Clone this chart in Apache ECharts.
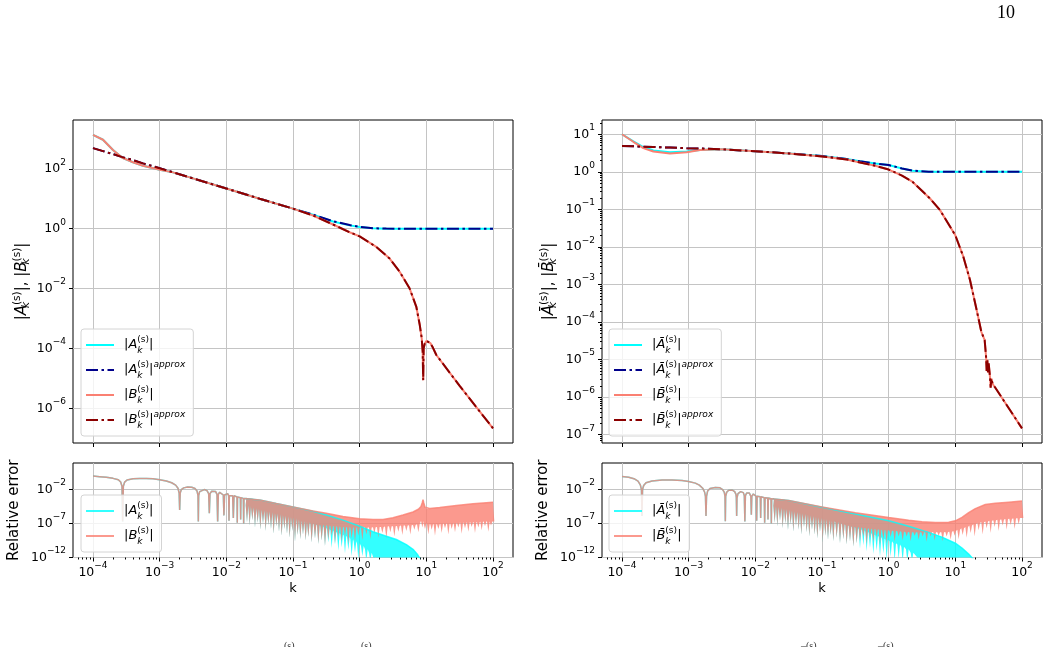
<!DOCTYPE html>
<html><head><meta charset="utf-8">
<script src="https://cdn.jsdelivr.net/npm/echarts@6/dist/echarts.min.js"></script>
<style>html,body{margin:0;padding:0;background:#fff}#c{width:1049px;height:647px}</style>
</head><body><div id="c"></div>
<script>
// All positions are log10 values: x = log10(k), y = log10(|quantity|)
const xTickExp = [-4, -3, -2, -1, 0, 1, 2];
const yTickExpTL = [-6, -4, -2, 0, 2];
const yTickExpTR = [-7, -6, -5, -4, -3, -2, -1, 0, 1];
const yTickExpErr = [-12, -7, -2];

// ---- top-left panel: |A|, |B| ----
const tlKA = [-4, -3.85, -3.7, -3.56, -3.4, -3.25, -3.0, -2.8, -2.5, -2.0, -1.5, -1.0, -0.7, -0.4, -0.15, 0, 0.2, 0.4, 0.7, 1.0, 1.5, 2.0];
const tlA = [3.13, 2.97, 2.63, 2.37, 2.22, 2.1, 1.97, 1.88, 1.68, 1.34, 1.0, 0.67, 0.47, 0.24, 0.11, 0.055, 0.01, 0.0, 0, 0, 0, 0];
const tlAapprox = [2.69, 2.59, 2.49, 2.39, 2.29, 2.18, 2.02, 1.88, 1.68, 1.34, 1.0, 0.67, 0.47, 0.25, 0.12, 0.06, 0.015, 0.002, 0, 0, 0, 0];
const tlKB = [-4, -3.85, -3.7, -3.56, -3.4, -3.25, -3.0, -2.8, -2.5, -2.0, -1.5, -1.0, -0.7, -0.4, -0.15, 0, 0.25, 0.45, 0.6, 0.75, 0.85, 0.9, 0.93, 0.945, 0.953, 0.96, 0.975, 1.0, 1.025, 1.06, 1.1, 1.15, 1.5, 2.0];
const tlB = [3.13, 2.97, 2.63, 2.37, 2.22, 2.1, 1.97, 1.88, 1.68, 1.34, 1.0, 0.67, 0.44, 0.14, -0.12, -0.26, -0.61, -1.0, -1.44, -2.0, -2.61, -3.2, -3.65, -4.1, -5.06, -4.0, -3.85, -3.75, -3.72, -3.82, -3.98, -4.22, -5.25, -6.67];
const tlBapprox = [2.69, 2.59, 2.49, 2.39, 2.29, 2.18, 2.02, 1.88, 1.68, 1.34, 1.0, 0.67, 0.44, 0.14, -0.12, -0.26, -0.61, -1.0, -1.44, -2.0, -2.61, -3.2, -3.65, -4.1, -5.06, -4.0, -3.85, -3.75, -3.72, -3.82, -3.98, -4.22, -5.25, -6.67];

// ---- top-right panel: |Ā|, |B̄| ----
const trKA = [-4, -3.83, -3.68, -3.53, -3.28, -3.03, -2.83, -2.5, -2.0, -1.5, -1.0, -0.63, -0.43, -0.2, 0, 0.2, 0.36, 0.6, 1.0, 1.5, 2.0];
const trA = [1.0, 0.81, 0.66, 0.57, 0.52, 0.54, 0.58, 0.6, 0.55, 0.49, 0.42, 0.34, 0.28, 0.22, 0.18, 0.09, 0.03, 0.005, 0, 0, 0];
const trAapprox = [0.69, 0.68, 0.67, 0.66, 0.645, 0.63, 0.62, 0.6, 0.55, 0.49, 0.42, 0.34, 0.28, 0.22, 0.18, 0.09, 0.03, 0.005, 0, 0, 0];
const trKB = [-4, -3.83, -3.68, -3.53, -3.28, -3.03, -2.83, -2.5, -2.0, -1.5, -1.0, -0.63, -0.43, -0.2, 0, 0.2, 0.36, 0.62, 0.77, 1.0, 1.12, 1.22, 1.32, 1.39, 1.44, 1.46, 1.47, 1.48, 1.49, 1.5, 1.52, 1.53, 1.54, 1.56, 1.6, 2.0];
const trB = [1.0, 0.80, 0.63, 0.54, 0.49, 0.52, 0.58, 0.6, 0.55, 0.49, 0.41, 0.33, 0.25, 0.16, 0.06, -0.1, -0.27, -0.71, -1.02, -1.69, -2.26, -2.88, -3.68, -4.26, -4.48, -4.9, -5.3, -5.0, -5.35, -5.1, -5.46, -5.75, -5.5, -5.65, -5.75, -6.83];
const trBapprox = [0.69, 0.68, 0.67, 0.66, 0.645, 0.63, 0.62, 0.6, 0.55, 0.49, 0.41, 0.33, 0.25, 0.16, 0.06, -0.1, -0.27, -0.71, -1.02, -1.69, -2.26, -2.88, -3.68, -4.26, -4.48, -4.9, -5.3, -5.0, -5.35, -5.1, -5.46, -5.75, -5.5, -5.65, -5.75, -6.83];

// ---- bottom-left panel: relative error (low-k arcs shared by A and B) ----
const blArcK = [-4.0, -3.9, -3.8, -3.7, -3.62, -3.585, -3.565, -3.555, -3.545, -3.525, -3.49, -3.4, -3.3, -3.2, -3.1, -3.0, -2.9, -2.82, -2.76, -2.725, -2.708, -2.70, -2.692, -2.675, -2.64, -2.58, -2.52, -2.47, -2.44, -2.425, -2.42, -2.415, -2.40, -2.37, -2.33, -2.29, -2.265, -2.255, -2.245, -2.22, -2.19, -2.16, -2.14, -2.13, -2.12, -2.10, -2.07, -2.045, -2.036, -2.027, -2.0, -1.98, -1.965, -1.96, -1.955, -1.93, -1.905, -1.895, -1.885, -1.86, -1.84, -1.836, -1.832, -1.81, -1.79, -1.785, -1.78, -1.76, -1.745, -1.74, -1.735, -1.72];
const blArcV = [-0.02, -0.1, -0.2, -0.35, -0.55, -0.9, -1.5, -6.7, -1.5, -0.9, -0.6, -0.42, -0.36, -0.36, -0.42, -0.55, -0.75, -1.0, -1.35, -1.8, -2.5, -5.0, -2.5, -2.0, -1.75, -1.62, -1.65, -1.85, -2.2, -2.9, -6.7, -2.9, -2.3, -2.05, -2.0, -2.15, -2.6, -5.5, -2.6, -2.25, -2.2, -2.3, -2.7, -6.7, -2.7, -2.4, -2.4, -2.8, -5.8, -2.8, -2.55, -2.6, -2.9, -6.6, -2.9, -2.7, -2.9, -6.2, -2.9, -2.85, -3.1, -6.9, -3.1, -2.95, -3.2, -6.4, -3.2, -3.05, -3.3, -7.0, -3.3, -3.15];
// upper envelopes of the dense oscillating part
const blAupK = [-1.72, -1.5, -1.25, -1.0, -0.7, -0.5, -0.25, 0, 0.2, 0.4, 0.55, 0.7, 0.8, 0.87, 0.93];
const blAupV = [-3.15, -3.52, -4.05, -4.55, -5.2, -5.75, -6.5, -7.4, -8.2, -8.86, -9.35, -10.1, -10.8, -11.6, -12.6];
const blBupK = [-1.72, -1.5, -1.25, -1.0, -0.7, -0.5, -0.25, 0, 0.2, 0.35, 0.5, 0.65, 0.8, 0.88, 0.92, 0.94, 0.95, 0.96, 0.98, 1.0, 1.05, 1.2, 1.45, 1.7, 2.0];
const blBupV = [-3.15, -3.52, -4.05, -4.55, -5.15, -5.5, -5.95, -6.3, -6.42, -6.4, -6.15, -5.75, -5.3, -4.9, -4.5, -3.9, -3.47, -3.9, -4.6, -4.84, -4.8, -4.65, -4.35, -4.1, -3.86];
// downward spikes: position, spike bottom, solid-fill bottom next to it
const blAspK = [-1.72, -1.69, -1.65, -1.61, -1.57, -1.53, -1.49, -1.45, -1.41, -1.37, -1.33, -1.29, -1.25, -1.21, -1.17, -1.13, -1.09, -1.05, -1.01, -0.97, -0.93, -0.89, -0.85, -0.81, -0.77, -0.72, -0.67, -0.62, -0.57, -0.52, -0.47, -0.42, -0.37, -0.32, -0.27, -0.22, -0.17, -0.12, -0.07, -0.02, 0.04, 0.10, 0.16, 0.22, 0.30, 0.93];
const blAspLo = [-3.15, -6.8, -7.3, -6.5, -7.6, -6.9, -7.9, -7.0, -8.1, -7.2, -7.8, -8.5, -7.4, -8.2, -8.8, -7.8, -8.5, -9.1, -8.1, -9.7, -8.7, -9.3, -8.6, -9.5, -9.0, -9.8, -9.2, -10.0, -9.5, -10.3, -9.8, -10.6, -10.1, -11.0, -10.5, -11.4, -10.9, -11.8, -11.3, -12.3, -11.8, -12.6, -12.6, -12.6, -12.6, -12.6];
const blAspBase = [-3.15, -4.3, -4.4, -4.6, -4.7, -4.8, -4.9, -5.0, -5.1, -5.2, -5.3, -5.4, -5.5, -5.6, -5.7, -5.8, -5.9, -6.0, -6.1, -6.2, -6.35, -6.5, -6.6, -6.7, -6.85, -7.0, -7.15, -7.3, -7.45, -7.6, -7.8, -8.0, -8.2, -8.4, -8.6, -8.8, -9.0, -9.3, -9.6, -9.9, -10.3, -10.8, -11.3, -11.9, -12.6, -12.6];
const blBspK = [-1.72, -1.69, -1.65, -1.61, -1.57, -1.53, -1.49, -1.45, -1.41, -1.37, -1.33, -1.29, -1.25, -1.21, -1.17, -1.13, -1.09, -1.05, -1.01, -0.97, -0.93, -0.89, -0.85, -0.81, -0.77, -0.72, -0.67, -0.62, -0.57, -0.52, -0.47, -0.42, -0.37, -0.32, -0.27, -0.22, -0.17, -0.12, -0.07, -0.02, 0.04, 0.10, 0.16, 0.22, 0.28, 0.34, 0.40, 0.46, 0.52, 0.58, 0.64, 0.70, 0.76, 0.82, 0.88, 0.94, 0.98, 1.03, 1.08, 1.13, 1.18, 1.23, 1.28, 1.33, 1.38, 1.43, 1.48, 1.53, 1.58, 1.63, 1.68, 1.73, 1.78, 1.83, 1.88, 1.93, 1.97, 2.0];
const blBspLo = [-3.15, -6.8, -7.3, -6.5, -7.6, -6.9, -7.9, -7.0, -8.1, -7.2, -7.8, -8.5, -7.4, -8.2, -8.8, -7.8, -8.5, -9.1, -8.1, -9.7, -8.7, -9.3, -8.6, -9.5, -9.0, -9.8, -9.2, -10.0, -9.5, -10.3, -9.4, -8.8, -9.9, -9.0, -9.6, -8.9, -10.0, -9.2, -9.7, -8.8, -9.5, -8.6, -9.3, -8.5, -9.1, -8.4, -9.2, -8.3, -8.9, -8.2, -8.7, -8.1, -8.6, -7.9, -8.3, -7.6, -7.8, -8.6, -7.9, -8.8, -7.8, -8.4, -7.7, -8.6, -7.8, -8.3, -7.6, -8.5, -7.7, -8.2, -7.5, -8.4, -7.6, -8.0, -7.4, -8.2, -7.3, -6.7];
const blBspBase = [-3.15, -4.3, -4.4, -4.6, -4.7, -4.8, -4.9, -5.0, -5.1, -5.2, -5.3, -5.4, -5.5, -5.6, -5.7, -5.8, -5.9, -6.0, -6.1, -6.2, -6.35, -6.5, -6.6, -6.7, -6.85, -7.0, -7.15, -7.2, -7.25, -7.3, -7.3, -7.35, -7.4, -7.45, -7.5, -7.5, -7.55, -7.6, -7.6, -7.6, -7.6, -7.6, -7.6, -7.55, -7.5, -7.5, -7.45, -7.4, -7.4, -7.35, -7.3, -7.3, -7.25, -7.2, -7.1, -6.6, -7.0, -7.1, -7.1, -7.1, -7.1, -7.05, -7.0, -7.0, -7.0, -6.95, -6.9, -6.9, -6.9, -6.85, -6.8, -6.8, -6.8, -6.75, -6.7, -6.7, -6.7, -6.7];

// ---- bottom-right panel: relative error ----
const brArcK = [-4.0, -3.9, -3.82, -3.76, -3.725, -3.708, -3.70, -3.692, -3.675, -3.64, -3.55, -3.4, -3.25, -3.1, -3.0, -2.9, -2.84, -2.79, -2.76, -2.748, -2.74, -2.732, -2.715, -2.68, -2.6, -2.53, -2.49, -2.465, -2.455, -2.45, -2.445, -2.43, -2.4, -2.35, -2.31, -2.29, -2.285, -2.28, -2.275, -2.26, -2.22, -2.18, -2.165, -2.157, -2.149, -2.13, -2.09, -2.067, -2.06, -2.053, -2.03, -2.0, -1.987, -1.98, -1.973, -1.95, -1.926, -1.92, -1.914, -1.89, -1.866, -1.86, -1.854, -1.83, -1.815, -1.81, -1.805, -1.78, -1.765, -1.76, -1.755, -1.74];
const brArcV = [-0.09, -0.2, -0.4, -0.75, -1.3, -2.0, -5.9, -2.0, -1.4, -1.0, -0.75, -0.6, -0.58, -0.65, -0.8, -1.05, -1.35, -1.8, -2.4, -3.0, -5.9, -3.0, -2.2, -1.85, -1.7, -1.75, -2.0, -2.4, -3.0, -6.65, -3.0, -2.4, -2.1, -2.05, -2.3, -2.7, -3.2, -5.9, -3.2, -2.6, -2.3, -2.45, -2.9, -6.7, -2.9, -2.5, -2.5, -3.0, -5.7, -3.0, -2.65, -2.7, -3.0, -6.6, -3.0, -2.8, -3.05, -6.2, -3.05, -2.95, -3.2, -6.9, -3.2, -3.05, -3.25, -6.4, -3.25, -3.15, -3.35, -7.0, -3.35, -3.25];
const brAupK = [-1.74, -1.5, -1.0, -0.5, 0, 0.3, 0.6, 0.8, 1.0, 1.1, 1.2, 1.3];
const brAupV = [-3.25, -3.6, -4.6, -5.6, -6.6, -7.4, -8.3, -9.0, -9.9, -10.6, -11.5, -12.6];
const brBupK = [-1.74, -1.5, -1.0, -0.5, 0, 0.3, 0.5, 0.7, 0.9, 1.0, 1.1, 1.2, 1.3, 1.45, 1.6, 1.8, 2.0];
const brBupV = [-3.25, -3.6, -4.55, -5.4, -6.1, -6.5, -6.75, -6.85, -6.8, -6.6, -6.1, -5.4, -4.8, -4.2, -4.0, -3.85, -3.7];
const brAspK = [-1.74, -1.71, -1.67, -1.63, -1.59, -1.55, -1.51, -1.47, -1.43, -1.39, -1.35, -1.31, -1.27, -1.23, -1.19, -1.15, -1.11, -1.07, -1.03, -0.99, -0.95, -0.91, -0.87, -0.83, -0.78, -0.73, -0.68, -0.63, -0.58, -0.53, -0.48, -0.43, -0.38, -0.33, -0.28, -0.23, -0.18, -0.13, -0.08, -0.03, 0.03, 0.09, 0.15, 0.21, 0.28, 0.35, 0.45, 0.55, 1.3];
const brAspLo = [-3.25, -6.9, -7.4, -6.6, -7.7, -7.0, -8.0, -7.1, -8.2, -7.3, -7.9, -8.6, -7.5, -8.3, -8.9, -7.9, -8.6, -9.2, -8.2, -9.8, -8.8, -9.4, -8.7, -9.6, -9.1, -9.9, -9.3, -10.1, -9.6, -10.4, -9.9, -10.7, -10.2, -11.1, -10.6, -11.5, -11.0, -11.9, -11.4, -12.4, -11.9, -12.6, -12.2, -12.6, -12.6, -12.6, -12.6, -12.6, -12.6];
const brAspBase = [-3.25, -4.4, -4.5, -4.65, -4.75, -4.85, -4.95, -5.05, -5.15, -5.25, -5.35, -5.45, -5.55, -5.65, -5.75, -5.85, -5.95, -6.05, -6.15, -6.25, -6.35, -6.45, -6.55, -6.65, -6.8, -6.95, -7.1, -7.25, -7.4, -7.55, -7.7, -7.85, -8.0, -8.2, -8.4, -8.6, -8.8, -9.0, -9.2, -9.4, -9.6, -9.9, -10.1, -10.4, -10.8, -11.3, -12.0, -12.6, -12.6];
const brBspK = [-1.74, -1.71, -1.67, -1.63, -1.59, -1.55, -1.51, -1.47, -1.43, -1.39, -1.35, -1.31, -1.27, -1.23, -1.19, -1.15, -1.11, -1.07, -1.03, -0.99, -0.95, -0.91, -0.87, -0.83, -0.78, -0.73, -0.68, -0.63, -0.58, -0.53, -0.48, -0.43, -0.38, -0.33, -0.28, -0.23, -0.18, -0.13, -0.08, -0.03, 0.03, 0.09, 0.15, 0.21, 0.27, 0.33, 0.39, 0.45, 0.51, 0.57, 0.63, 0.69, 0.75, 0.81, 0.87, 0.93, 0.99, 1.05, 1.11, 1.17, 1.23, 1.29, 1.35, 1.41, 1.47, 1.53, 1.59, 1.65, 1.71, 1.77, 1.83, 1.89, 1.95, 2.0];
const brBspLo = [-3.25, -6.9, -7.4, -6.6, -7.7, -7.0, -8.0, -7.1, -8.2, -7.3, -7.9, -8.6, -7.5, -8.3, -8.9, -7.9, -8.6, -9.2, -8.2, -9.8, -8.8, -9.4, -8.7, -9.6, -9.1, -9.9, -9.3, -10.1, -9.6, -10.4, -9.9, -9.6, -8.9, -10.0, -9.1, -9.7, -9.0, -10.1, -9.3, -9.9, -9.0, -9.7, -8.9, -9.5, -8.9, -9.6, -8.8, -9.4, -8.9, -9.7, -8.9, -9.5, -8.8, -9.6, -8.9, -9.4, -8.8, -9.3, -8.7, -9.1, -8.4, -8.9, -8.0, -8.6, -7.7, -8.4, -7.5, -8.1, -7.3, -7.9, -7.2, -7.8, -7.1, -6.2];
const brBspBase = [-3.25, -4.4, -4.5, -4.65, -4.75, -4.85, -4.95, -5.05, -5.15, -5.25, -5.35, -5.45, -5.55, -5.65, -5.75, -5.85, -5.95, -6.05, -6.15, -6.25, -6.35, -6.45, -6.55, -6.65, -6.8, -6.95, -7.1, -7.25, -7.4, -7.5, -7.55, -7.6, -7.65, -7.7, -7.75, -7.8, -7.85, -7.9, -7.95, -8.0, -8.05, -8.1, -8.15, -8.2, -8.25, -8.3, -8.3, -8.3, -8.3, -8.3, -8.3, -8.3, -8.3, -8.3, -8.25, -8.2, -8.1, -7.9, -7.7, -7.5, -7.3, -7.1, -6.9, -6.8, -6.7, -6.6, -6.5, -6.45, -6.4, -6.35, -6.3, -6.25, -6.2, -6.2];

// ---------------------------------------------------------------
const FONT = 'DejaVu Sans';
const C_CYAN = '#00ffff', C_NAVY = '#00008b', C_SALMON = '#fa8072', C_DRED = '#8b0000';
const DASHDOT = [12, 3.5, 2.5, 3.5];
const SPIKE_HALF_W = 0.02;
const pairs = (k, v) => k.map((x, i) => [x, v[i]]);
const minorVals = (lo, hi) => { const r = []; for (let n = -9; n <= 3; n++) for (let m = 2; m <= 9; m++) { const v = n + Math.log10(m); if (v > lo && v < hi) r.push(v); } return r; };

const powRich = {
  b: {fontFamily: FONT, fontSize: 12.5, color: '#000', lineHeight: 22},
  s: {fontFamily: FONT, fontSize: 9, color: '#000', verticalAlign: 'top', lineHeight: 10}
};
const fmtPow = v => { const e = Math.round(v); return '{b|10}{s|' + (e < 0 ? '\u2212' + (-e) : e) + '}'; };

const mathRich = (fs) => ({
  p: {fontFamily: FONT, fontSize: fs, color: '#000', lineHeight: 20},
  p0: {fontFamily: FONT, fontSize: fs, color: '#000', lineHeight: 20, padding: [0, 0, 0, 5]},
  v: {fontFamily: FONT, fontSize: fs, fontStyle: 'italic', color: '#000', lineHeight: 20},
  sb: {fontFamily: FONT, fontSize: fs * 0.7, fontStyle: 'italic', color: '#000', verticalAlign: 'bottom', width: 0, lineHeight: 10},
  sp: {fontFamily: FONT, fontSize: fs * 0.7, color: '#000', verticalAlign: 'top', lineHeight: 10},
  sa: {fontFamily: FONT, fontSize: fs * 0.7, fontStyle: 'italic', color: '#000', verticalAlign: 'top', lineHeight: 10}
});
const sym = (L, first) => '{' + (first ? 'p0' : 'p') + '||}{v|' + L + '}{sb|k}{sp|(s)}{p||}';
const ABAR = '\u0100', BBAR = 'B\u0304';
const legendText = {
  tlA: sym('A', 1), tlAap: sym('A', 1) + '{sa|approx}', tlB: sym('B', 1), tlBap: sym('B', 1) + '{sa|approx}',
  trA: sym(ABAR, 1), trAap: sym(ABAR, 1) + '{sa|approx}', trB: sym(BBAR, 1), trBap: sym(BBAR, 1) + '{sa|approx}',
  blA: sym('A', 1), blB: sym('B', 1), brA: sym(ABAR, 1), brB: sym(BBAR, 1)
};

const grids = [
  {left: 73, top: 120, width: 440, height: 323},
  {left: 73, top: 463, width: 440, height: 94.5},
  {left: 602, top: 120, width: 440, height: 323},
  {left: 602, top: 463, width: 440, height: 94.5}
].map(g => Object.assign(g, {show: true, borderColor: '#000', borderWidth: 1, backgroundColor: 'transparent'}));

const gridLine = {show: true, lineStyle: {color: '#c4c4c4', width: 1}};
function mainX(gi, bottom) {
  return {
    type: 'value', gridIndex: gi, min: -4.3, max: 2.3, position: 'bottom',
    axisLine: {show: false, onZero: false},
    axisTick: {show: true, customValues: xTickExp, length: 4, lineStyle: {color: '#000'}},
    axisLabel: {show: bottom, customValues: xTickExp, formatter: fmtPow, rich: powRich, margin: 4},
    splitLine: gridLine,
    name: bottom ? 'k' : '', nameLocation: 'middle', nameGap: 25,
    nameTextStyle: {fontFamily: FONT, fontSize: 13, color: '#000'}
  };
}
function minorX(gi) {
  return {
    type: 'value', gridIndex: gi, min: -4.3, max: 2.3, position: 'bottom',
    axisLine: {show: false, onZero: false}, axisLabel: {show: false}, splitLine: {show: false},
    axisTick: {show: true, customValues: minorVals(-4.3, 2.3), length: 2, lineStyle: {color: '#000'}}
  };
}
function mainY(gi, min, max, ticks, name, nameGap, nameSize) {
  return {
    type: 'value', gridIndex: gi, min: min, max: max, position: 'left',
    axisLine: {show: false, onZero: false},
    axisTick: {show: true, customValues: ticks, length: 4, lineStyle: {color: '#000'}},
    axisLabel: {customValues: ticks, formatter: fmtPow, rich: powRich, margin: 7},
    splitLine: gridLine,
    name: name, nameLocation: 'middle', nameRotate: 90, nameGap: nameGap,
    nameTextStyle: {fontFamily: FONT, fontSize: nameSize, color: '#000', rich: mathRich(15)}
  };
}
function minorY(gi, min, max) {
  return {
    type: 'value', gridIndex: gi, min: min, max: max, position: 'left',
    axisLine: {show: false, onZero: false}, axisLabel: {show: false}, splitLine: {show: false},
    axisTick: {show: true, customValues: minorVals(min, max), length: 2, lineStyle: {color: '#000'}}
  };
}

const yNameTL = sym('A') + '{p|, }' + sym('B');
const yNameTR = sym(ABAR) + '{p|, }' + sym(BBAR);

function lineS(name, gi, k, v, color, dash, width, opacity) {
  return {
    name: name, type: 'line', xAxisIndex: gi, yAxisIndex: gi, data: pairs(k, v),
    symbol: 'none', showSymbol: false, smooth: false, silent: true,
    lineStyle: {color: color, width: width, type: dash || 'solid', opacity: opacity == null ? 1 : opacity},
    itemStyle: {color: color}
  };
}
// filled band: upper envelope, and a lower edge made of thin downward spikes
function bandS(gi, upK, upV, spK, spLo, spBase, fill) {
  return {
    type: 'custom', xAxisIndex: gi, yAxisIndex: gi, clip: true, silent: true,
    data: pairs(upK, upV),
    renderItem: (params, api) => {
      if (params.dataIndex !== 0) return null;
      const pts = [];
      for (let i = 0; i < upK.length; i++) pts.push(api.coord([upK[i], upV[i]]));
      for (let i = spK.length - 1; i >= 0; i--) {
        pts.push(api.coord([spK[i] + SPIKE_HALF_W, spBase[i]]));
        pts.push(api.coord([spK[i], spLo[i]]));
        pts.push(api.coord([spK[i] - SPIKE_HALF_W, spBase[i]]));
      }
      return {type: 'polygon', shape: {points: pts}, style: {fill: fill, stroke: null}};
    }
  };
}
const errLine = (arcK, arcV, upK, upV) => [arcK.concat(upK.slice(1)), arcV.concat(upV.slice(1))];

const blAl = errLine(blArcK, blArcV, blAupK, blAupV), blBl = errLine(blArcK, blArcV, blBupK, blBupV);
const brAl = errLine(brArcK, brArcV, brAupK, brAupV), brBl = errLine(brArcK, brArcV, brBupK, brBupV);
const CYAN_A = 'rgba(0,255,255,0.8)', SAL_A = 'rgba(250,128,114,0.8)';

function legendBox(left, top, names) {
  return {
    orient: 'vertical', left: left, top: top, data: names, itemWidth: 28, itemHeight: 12, itemGap: 5,
    padding: [6, 8, 6, 4], backgroundColor: 'rgba(255,255,255,0.8)', borderColor: '#d4d4d4', borderWidth: 1, borderRadius: 3,
    selectedMode: false, itemStyle: {opacity: 0},
    formatter: n => legendText[n], textStyle: {fontFamily: FONT, fontSize: 13, color: '#000', rich: mathRich(13)}
  };
}

const option = {
  animation: false,
  backgroundColor: '#fff',
  grid: grids,
  xAxis: [mainX(0, false), mainX(1, true), mainX(2, false), mainX(3, true), minorX(1), minorX(3)],
  yAxis: [
    mainY(0, -7.16, 3.63, yTickExpTL, yNameTL, 41, 15),
    mainY(1, -12, 1.91, yTickExpErr, 'Relative error', 51, 15),
    mainY(2, -7.22, 1.38, yTickExpTR, yNameTR, 43, 15),
    mainY(3, -12, 1.91, yTickExpErr, 'Relative error', 51, 15),
    minorY(2, -7.22, 1.38)
  ],
  legend: [
    legendBox(81, 329, ['tlA', 'tlAap', 'tlB', 'tlBap']),
    legendBox(81, 495, ['blA', 'blB']),
    legendBox(609, 329, ['trA', 'trAap', 'trB', 'trBap']),
    legendBox(609, 495, ['brA', 'brB'])
  ],
  series: [
    lineS('tlA', 0, tlKA, tlA, C_CYAN, null, 2),
    lineS('tlAap', 0, tlKA, tlAapprox, C_NAVY, DASHDOT, 2),
    lineS('tlB', 0, tlKB, tlB, C_SALMON, null, 2),
    lineS('tlBap', 0, tlKB, tlBapprox, C_DRED, DASHDOT, 2),

    lineS('trA', 2, trKA, trA, C_CYAN, null, 2),
    lineS('trAap', 2, trKA, trAapprox, C_NAVY, DASHDOT, 2),
    lineS('trB', 2, trKB, trB, C_SALMON, null, 2),
    lineS('trBap', 2, trKB, trBapprox, C_DRED, DASHDOT, 2),

    bandS(1, blAupK, blAupV, blAspK, blAspLo, blAspBase, CYAN_A),
    lineS('blA', 1, blAl[0], blAl[1], C_CYAN, null, 1.5, 0.8),
    bandS(1, blBupK, blBupV, blBspK, blBspLo, blBspBase, SAL_A),
    lineS('blB', 1, blBl[0], blBl[1], C_SALMON, null, 1.5, 0.8),

    bandS(3, brAupK, brAupV, brAspK, brAspLo, brAspBase, CYAN_A),
    lineS('brA', 3, brAl[0], brAl[1], C_CYAN, null, 1.5, 0.8),
    bandS(3, brBupK, brBupV, brBspK, brBspLo, brBspBase, SAL_A),
    lineS('brB', 3, brBl[0], brBl[1], C_SALMON, null, 1.5, 0.8)
  ],
  graphic: [
    {type: 'text', left: 997, top: 4, style: {text: '10', fontFamily: 'Liberation Serif', fontSize: 18, fill: '#000'}},
    {type: 'text', left: 284, top: 641, style: {text: '(s)', fontFamily: 'Liberation Serif', fontSize: 10, fill: '#333'}},
    {type: 'text', left: 361, top: 641, style: {text: '(s)', fontFamily: 'Liberation Serif', fontSize: 10, fill: '#333'}},
    {type: 'text', left: 801, top: 641, style: {text: '\u2013(s)', fontFamily: 'Liberation Serif', fontSize: 10, fill: '#333'}},
    {type: 'text', left: 878, top: 641, style: {text: '\u2013(s)', fontFamily: 'Liberation Serif', fontSize: 10, fill: '#333'}}
  ]
};

const chart = echarts.init(document.getElementById('c'), null, {renderer: 'canvas'});
chart.setOption(option);
</script></body></html>
